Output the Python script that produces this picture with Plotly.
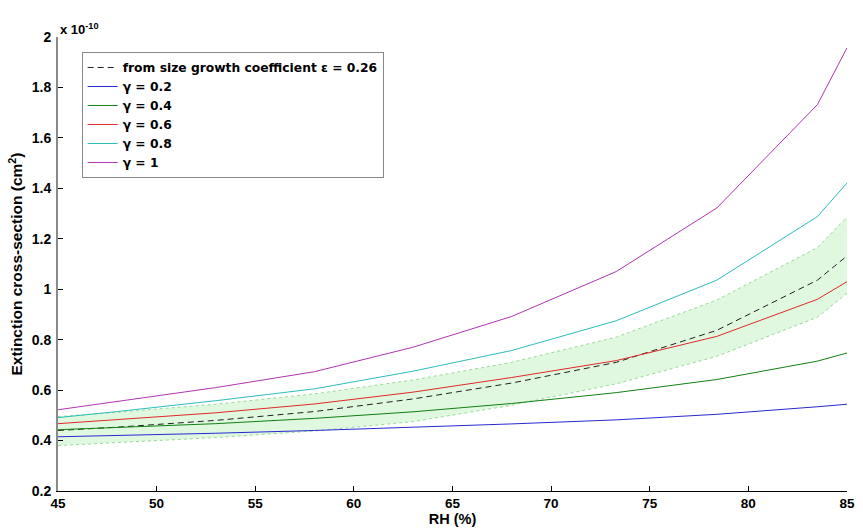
import plotly.graph_objects as go

rh = [45, 48, 53, 58, 63, 68, 73.3, 78.4, 83.5, 85]

gamma_02 = [0.415, 0.420, 0.429, 0.440, 0.452, 0.466, 0.482, 0.504, 0.534, 0.544]
gamma_04 = [0.443, 0.452, 0.467, 0.488, 0.514, 0.547, 0.590, 0.642, 0.715, 0.747]
gamma_06 = [0.467, 0.482, 0.510, 0.545, 0.592, 0.650, 0.717, 0.813, 0.960, 1.030]
gamma_08 = [0.491, 0.515, 0.558, 0.605, 0.675, 0.757, 0.875, 1.036, 1.288, 1.421]
gamma_10 = [0.522, 0.555, 0.610, 0.673, 0.770, 0.892, 1.070, 1.322, 1.732, 1.957]
eps_026 = [0.440, 0.453, 0.480, 0.515, 0.565, 0.628, 0.710, 0.837, 1.036, 1.132]
band_upper = [0.495, 0.512, 0.544, 0.585, 0.640, 0.710, 0.810, 0.957, 1.165, 1.286]
band_lower = [0.380, 0.392, 0.412, 0.438, 0.475, 0.540, 0.625, 0.734, 0.889, 0.984]

y_ticks = [0.2, 0.4, 0.6, 0.8, 1.0, 1.2, 1.4, 1.6, 1.8, 2.0]
y_tick_labels = ["0.2", "0.4", "0.6", "0.8", "1", "1.2", "1.4", "1.6", "1.8", "2"]
x_ticks = [45, 50, 55, 60, 65, 70, 75, 80, 85]

FONT = "Liberation Sans, Arial, Helvetica, sans-serif"
LEGEND_FONT = "DejaVu Sans, Liberation Sans, Arial, sans-serif"

fig = go.Figure()

# shaded band
fig.add_trace(go.Scatter(x=rh, y=band_lower, mode="lines",
                         line=dict(color="#9ad89a", width=1, dash="dot"),
                         showlegend=False, hoverinfo="skip"))
fig.add_trace(go.Scatter(x=rh, y=band_upper, mode="lines",
                         line=dict(color="#9ad89a", width=1, dash="dot"),
                         fill="tonexty", fillcolor="rgba(222,248,222,0.95)",
                         showlegend=False, hoverinfo="skip"))

fig.add_trace(go.Scatter(x=rh, y=eps_026, mode="lines",
                         name="from size growth coefficient \u03b5 = 0.26",
                         line=dict(color="#222222", width=1, dash="6px,4px")))
series = [
    ("\u03b3 = 0.2", gamma_02, "#2828d0"),
    ("\u03b3 = 0.4", gamma_04, "#118011"),
    ("\u03b3 = 0.6", gamma_06, "#e02828"),
    ("\u03b3 = 0.8", gamma_08, "#2cbcbc"),
    ("\u03b3 = 1", gamma_10, "#b035b0"),
]
for name, vals, col in series:
    fig.add_trace(go.Scatter(x=rh, y=vals, mode="lines", name=name,
                             line=dict(color=col, width=1)))

fig.update_layout(
    width=863, height=530,
    margin=dict(l=58, r=8, t=37, b=36),
    paper_bgcolor="white", plot_bgcolor="white",
    font=dict(family=FONT, size=13, color="black", weight="bold"),
    showlegend=True,
    legend=dict(x=0.03, y=0.967, xanchor="left", yanchor="top",
                bordercolor="#888888", borderwidth=1, bgcolor="white",
                font=dict(family=LEGEND_FONT, size=12.3, color="black", weight="bold"),
                traceorder="normal", tracegroupgap=0, itemwidth=30),
    xaxis=dict(range=[45, 85], tickvals=x_ticks, ticks="inside", ticklen=5,
               tickcolor="black", showline=True, linecolor="black", linewidth=1,
               showgrid=False, zeroline=False, mirror=False,
               tickfont=dict(family=FONT, size=13.5, weight="bold"),
               title=dict(text="RH (%)", standoff=1,
                          font=dict(family=FONT, size=14.5, weight="bold"))),
    yaxis=dict(range=[0.2, 2.0], tickvals=y_ticks, ticktext=y_tick_labels,
               ticks="inside", ticklen=5, tickcolor="black",
               showline=True, linecolor="#8a8a8a", linewidth=2,
               showgrid=False, zeroline=False, mirror=False,
               ticklabelstandoff=2,
               tickfont=dict(family=FONT, size=14, weight="bold"),
               title=dict(text="Extinction cross-section (cm<sup>2</sup>)", standoff=5,
                          font=dict(family=FONT, size=15.5, weight="bold"))),
)

fig.add_annotation(xref="paper", yref="paper", x=0.0, y=1.0,
                   xanchor="left", yanchor="bottom", xshift=0, yshift=-2,
                   text="x 10<sup>-10</sup>", showarrow=False,
                   font=dict(family=FONT, size=13, color="black", weight="bold"))

fig.write_html("out.html")
